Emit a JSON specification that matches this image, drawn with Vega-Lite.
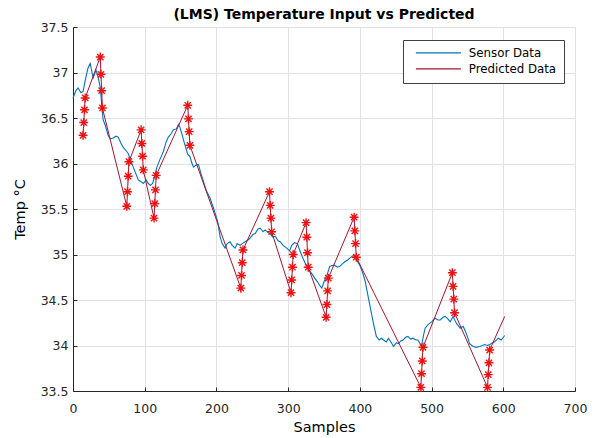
{
  "$schema": "https://vega.github.io/schema/vega-lite/v6.json",
  "width": 502,
  "height": 364,
  "autosize": {"type": "none"},
  "padding": {"left": 73, "top": 27, "right": 20, "bottom": 47},
  "background": "white",
  "title": {"text": "(LMS) Temperature Input vs Predicted", "font": "DejaVu Sans", "fontSize": 14, "fontWeight": "bold", "color": "#000000", "anchor": "middle", "offset": -1},
  "config": {
    "view": {"stroke": null},
    "axis": {
      "domainColor": "#262626", "tickColor": "#262626", "labelColor": "#262626", "titleColor": "#000000",
      "gridColor": "#e2e2e2", "gridWidth": 1, "labelFont": "DejaVu Sans", "titleFont": "DejaVu Sans",
      "labelFontSize": 12.5, "titleFontSize": 14.5, "titleFontWeight": "normal", "tickSize": -4, "domainWidth": 1
    }
  },
  "datasets": {
    "sensor": [
      {"s":0,"t":36.72},{"s":4,"t":36.80},{"s":7,"t":36.83},{"s":11,"t":36.78},{"s":14,"t":36.79},{"s":18,"t":36.95},{"s":21,"t":37.05},{"s":24,"t":37.10},{"s":26,"t":37.02},{"s":28,"t":36.94},{"s":30,"t":36.98},{"s":32,"t":37.03},{"s":35,"t":36.95},{"s":38,"t":36.84},{"s":40,"t":36.65},{"s":42,"t":36.48},{"s":45,"t":36.42},{"s":49,"t":36.31},{"s":52,"t":36.27},{"s":56,"t":36.28},{"s":60,"t":36.30},{"s":63,"t":36.29},{"s":67,"t":36.22},{"s":70,"t":36.18},{"s":74,"t":36.14},{"s":77,"t":36.11},{"s":81,"t":36.02},{"s":84,"t":35.96},{"s":88,"t":35.88},{"s":91,"t":35.82},{"s":95,"t":35.80},{"s":98,"t":35.78},{"s":102,"t":35.82},{"s":105,"t":35.78},{"s":108,"t":35.76},{"s":111,"t":35.78},{"s":114,"t":35.86},{"s":117,"t":35.96},{"s":121,"t":36.04},{"s":126,"t":36.13},{"s":130,"t":36.24},{"s":133,"t":36.29},{"s":137,"t":36.33},{"s":140,"t":36.37},{"s":144,"t":36.38},{"s":147,"t":36.43},{"s":149,"t":36.40},{"s":152,"t":36.32},{"s":154,"t":36.26},{"s":157,"t":36.18},{"s":160,"t":36.10},{"s":163,"t":36.08},{"s":166,"t":36.00},{"s":168,"t":35.96},{"s":171,"t":35.98},{"s":175,"t":35.99},{"s":178,"t":35.90},{"s":182,"t":35.80},{"s":186,"t":35.70},{"s":191,"t":35.62},{"s":195,"t":35.53},{"s":198,"t":35.46},{"s":202,"t":35.35},{"s":205,"t":35.20},{"s":208,"t":35.12},{"s":212,"t":35.07},{"s":215,"t":35.12},{"s":219,"t":35.14},{"s":222,"t":35.10},{"s":226,"t":35.07},{"s":229,"t":35.12},{"s":233,"t":35.10},{"s":236,"t":35.12},{"s":240,"t":35.14},{"s":244,"t":35.16},{"s":247,"t":35.18},{"s":251,"t":35.22},{"s":254,"t":35.23},{"s":258,"t":35.28},{"s":261,"t":35.29},{"s":265,"t":35.25},{"s":268,"t":35.27},{"s":272,"t":35.24},{"s":276,"t":35.22},{"s":279,"t":35.19},{"s":282,"t":35.20},{"s":286,"t":35.15},{"s":289,"t":35.14},{"s":293,"t":35.10},{"s":298,"t":35.07},{"s":302,"t":35.04},{"s":305,"t":35.10},{"s":309,"t":35.13},{"s":313,"t":35.12},{"s":316,"t":35.05},{"s":320,"t":34.97},{"s":324,"t":34.90},{"s":328,"t":34.83},{"s":332,"t":34.80},{"s":337,"t":34.74},{"s":341,"t":34.70},{"s":344,"t":34.66},{"s":347,"t":34.63},{"s":350,"t":34.70},{"s":354,"t":34.77},{"s":358,"t":34.87},{"s":362,"t":34.88},{"s":365,"t":34.88},{"s":369,"t":34.86},{"s":372,"t":34.87},{"s":376,"t":34.90},{"s":379,"t":34.92},{"s":383,"t":34.94},{"s":386,"t":34.96},{"s":389,"t":34.98},{"s":391,"t":34.99},{"s":394,"t":34.96},{"s":397,"t":34.92},{"s":400,"t":34.88},{"s":403,"t":34.82},{"s":407,"t":34.72},{"s":410,"t":34.60},{"s":413,"t":34.48},{"s":416,"t":34.36},{"s":419,"t":34.24},{"s":423,"t":34.10},{"s":427,"t":34.06},{"s":430,"t":34.08},{"s":433,"t":34.06},{"s":437,"t":34.04},{"s":440,"t":34.08},{"s":444,"t":34.03},{"s":447,"t":33.99},{"s":451,"t":34.03},{"s":454,"t":34.02},{"s":457,"t":34.05},{"s":460,"t":34.06},{"s":464,"t":34.09},{"s":467,"t":34.10},{"s":471,"t":34.07},{"s":474,"t":34.08},{"s":478,"t":34.06},{"s":481,"t":34.06},{"s":484,"t":34.02},{"s":486,"t":34.00},{"s":489,"t":34.12},{"s":491,"t":34.19},{"s":495,"t":34.23},{"s":500,"t":34.26},{"s":505,"t":34.30},{"s":509,"t":34.28},{"s":512,"t":34.28},{"s":516,"t":34.31},{"s":519,"t":34.32},{"s":523,"t":34.29},{"s":526,"t":34.26},{"s":530,"t":34.32},{"s":533,"t":34.27},{"s":535,"t":34.24},{"s":540,"t":34.19},{"s":544,"t":34.21},{"s":547,"t":34.16},{"s":549,"t":34.12},{"s":553,"t":34.02},{"s":558,"t":33.99},{"s":562,"t":33.98},{"s":567,"t":33.99},{"s":571,"t":34.00},{"s":574,"t":34.01},{"s":578,"t":34.00},{"s":581,"t":34.01},{"s":585,"t":34.03},{"s":588,"t":34.04},{"s":593,"t":34.08},{"s":597,"t":34.06},{"s":602,"t":34.11}
    ],
    "pred": [
      {"s":14,"t":36.31,"m":1},{"s":15,"t":36.45,"m":1},{"s":16,"t":36.59,"m":1},{"s":17,"t":36.72,"m":1},
      {"s":38,"t":37.17,"m":1},{"s":39,"t":36.98,"m":1},{"s":40,"t":36.80,"m":1},{"s":41,"t":36.61,"m":1},
      {"s":75,"t":35.53,"m":1},{"s":76,"t":35.69,"m":1},{"s":77,"t":35.86,"m":1},{"s":78,"t":36.02,"m":1},
      {"s":95,"t":36.37,"m":1},{"s":96,"t":36.22,"m":1},{"s":97,"t":36.08,"m":1},{"s":98,"t":35.93,"m":1},
      {"s":113,"t":35.40,"m":1},{"s":114,"t":35.56,"m":1},{"s":115,"t":35.71,"m":1},{"s":116,"t":35.87,"m":1},
      {"s":160,"t":36.64,"m":1},{"s":161,"t":36.49,"m":1},{"s":162,"t":36.35,"m":1},{"s":163,"t":36.20,"m":1},
      {"s":234,"t":34.63,"m":1},{"s":235,"t":34.77,"m":1},{"s":236,"t":34.91,"m":1},{"s":237,"t":35.05,"m":1},
      {"s":274,"t":35.69,"m":1},{"s":275,"t":35.54,"m":1},{"s":276,"t":35.40,"m":1},{"s":277,"t":35.25,"m":1},
      {"s":304,"t":34.58,"m":1},{"s":305,"t":34.72,"m":1},{"s":306,"t":34.86,"m":1},{"s":307,"t":35.00,"m":1},
      {"s":325,"t":35.35,"m":1},{"s":326,"t":35.19,"m":1},{"s":327,"t":35.02,"m":1},{"s":328,"t":34.86,"m":1},
      {"s":353,"t":34.31,"m":1},{"s":354,"t":34.45,"m":1},{"s":355,"t":34.60,"m":1},{"s":356,"t":34.74,"m":1},
      {"s":392,"t":35.41,"m":1},{"s":393,"t":35.26,"m":1},{"s":394,"t":35.12,"m":1},{"s":395,"t":34.97,"m":1},
      {"s":485,"t":33.54,"m":1},{"s":486,"t":33.69,"m":1},{"s":487,"t":33.83,"m":1},{"s":488,"t":33.98,"m":1},
      {"s":529,"t":34.80,"m":1},{"s":530,"t":34.65,"m":1},{"s":531,"t":34.51,"m":1},{"s":532,"t":34.36,"m":1},
      {"s":578,"t":33.54,"m":1},{"s":579,"t":33.68,"m":1},{"s":580,"t":33.81,"m":1},{"s":581,"t":33.95,"m":1},
      {"s":602,"t":34.32,"m":0}
    ]
  },
  "encoding": {
    "x": {"field": "s", "type": "quantitative", "scale": {"domain": [0, 700], "nice": false},
      "axis": {"values": [0,100,200,300,400,500,600,700], "title": "Samples", "labelPadding": 15, "titleY": 29, "titleBaseline": "top", "grid": true, "labelFlush": false}},
    "y": {"field": "t", "type": "quantitative", "scale": {"domain": [33.5, 37.5], "nice": false, "zero": false},
      "axis": {"values": [33.5,34,34.5,35,35.5,36,36.5,37,37.5], "format": ".1~f", "title": "Temp °C", "labelPadding": 9, "titleX": -46, "grid": true, "labelFlush": false}}
  },
  "layer": [
    {
      "data": {"name": "sensor"},
      "mark": {"type": "line", "strokeWidth": 1.1},
      "encoding": {
        "color": {"datum": "Sensor Data", "type": "nominal",
          "scale": {"domain": ["Sensor Data", "Predicted Data"], "range": ["#0072BD", "#A2142F"]},
          "legend": {"orient": "none", "legendX": 330, "legendY": 13, "title": null,
            "symbolType": "M0,0H18", "symbolSize": 25, "symbolStrokeWidth": 1.2,
            "labelFont": "DejaVu Sans", "labelFontSize": 11.8, "labelColor": "#000000",
            "padding": 7, "strokeColor": "#404040", "fillColor": "white", "rowPadding": 3, "labelOffset": 47}}
      }
    },
    {
      "data": {"name": "pred"},
      "mark": {"type": "line", "strokeWidth": 1},
      "encoding": {"color": {"datum": "Predicted Data", "type": "nominal"}}
    },
    {
      "data": {"name": "pred"},
      "transform": [{"filter": "datum.m == 1"}],
      "mark": {"type": "point", "shape": "M-1,0L1,0M0,-1L0,1M-0.7,-0.7L0.7,0.7M-0.7,0.7L0.7,-0.7", "stroke": "#ee1111", "strokeWidth": 1.4, "size": 80, "filled": false, "opacity": 1}
    }
  ]
}
